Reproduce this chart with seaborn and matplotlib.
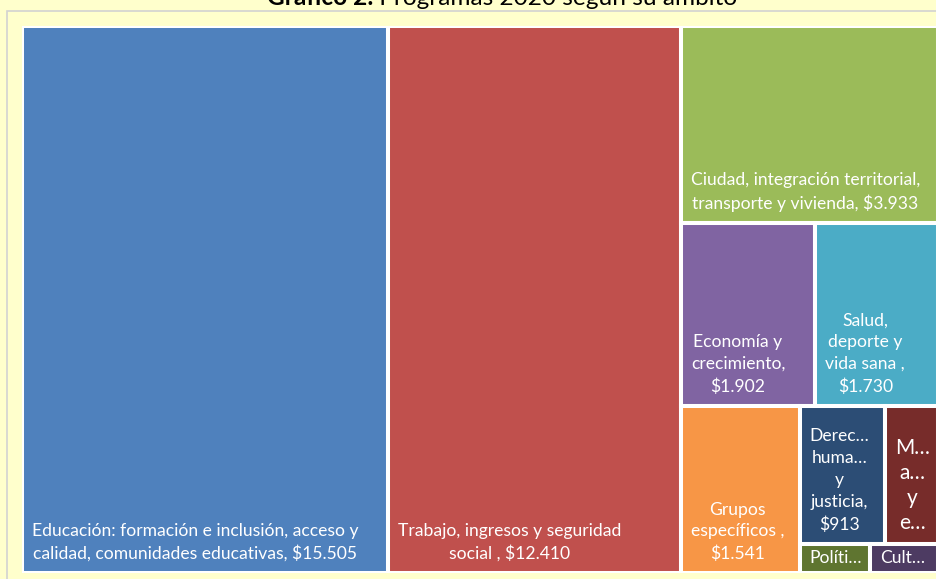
import matplotlib
matplotlib.use("Agg")
import matplotlib.pyplot as plt
import matplotlib.patches as mpatches
import seaborn as sns

# ámbitos, as wrapped / cut in the original chart ({} = monto)
ambitos = [
    "Educación: formación e inclusión, acceso y\ncalidad, comunidades educativas, {}",
    "Trabajo, ingresos y seguridad\nsocial , {}",
    "Ciudad, integración territorial,\ntransporte y vivienda, {}",
    "Economía y\ncrecimiento,\n{}",
    "Salud,\ndeporte y\nvida sana ,\n{}",
    "Grupos\nespecíficos ,\n{}",
    "Derec…\nhuma…\ny\njusticia,\n{}",
    "M…\na…\ny\ne…",
    "Políti…",
    "Cult…",
]
# millones de pesos
montos = [15505, 12410, 3933, 1902, 1730, 1541, 913, 565, 160, 156]

colores = ["#4F81BD", "#C0504D", "#9BBB59", "#8064A2", "#4BACC6",
           "#F79646", "#2C4D75", "#772C2A", "#5F7530", "#4D3B62"]

# strips of the treemap, in drawing order (same grouping as the excel chart)
franjas = [[0], [1], [2], [3, 4], [5], [6, 7], [8], [9]]


def pesos(v):
    return "${:,}".format(v).replace(",", ".")


def treemap(values, strips, x, y, w, h):
    rects = [None] * len(values)
    rest = float(sum(values))
    for strip in strips:
        s = float(sum(values[i] for i in strip))
        if w >= h:
            sw = w * s / rest
            yy = y
            for i in strip:
                hh = h * values[i] / s
                rects[i] = (x, yy, sw, hh)
                yy += hh
            x += sw
            w -= sw
        else:
            sh = h * s / rest
            xx = x
            for i in strip:
                ww = w * values[i] / s
                rects[i] = (xx, y, ww, sh)
                xx += ww
            y += sh
            h -= sh
        rest -= s
    return rects


sns.set_theme(style="white")
plt.rcParams['font.family'] = ['Lato', 'DejaVu Sans']

W_PX, H_PX = 937, 579
fig = plt.figure(figsize=(W_PX / 100, H_PX / 100), dpi=100)
fig.patch.set_facecolor("#FFFFCC")

# thin frame of the excel chart area
fig.add_artist(mpatches.Rectangle((7.5 / W_PX, -0.1), 1.2, 1.1 - 11.5 / H_PX,
                                  transform=fig.transFigure, fill=False,
                                  edgecolor="#D2D2D2", linewidth=1.2))

ax = fig.add_axes([22 / W_PX, 6 / H_PX, 916 / W_PX, 547 / H_PX])
ax.set_facecolor("white")
pos = ax.get_position()
W = pos.width * W_PX
H = pos.height * H_PX
ax.set_xlim(0, W)
ax.set_ylim(H, 0)
ax.set_axis_off()
ax.patch.set_visible(True)

rects = treemap(montos, franjas, 0, 0, W, H)

textos = []
for i, (x, y, w, h) in enumerate(rects):
    ax.add_patch(mpatches.Rectangle((x, y), w, h, facecolor=colores[i],
                                    edgecolor="white", linewidth=2.9))
    label = ambitos[i].format(pesos(montos[i]))
    fs = 15 if i == 7 else 12.6
    t = ax.text(x + 10, y + h - 11, label, ha="left", va="bottom",
                multialignment="center", color="white", fontsize=fs,
                linespacing=1.45 if i != 7 else 1.3)
    textos.append(t)

fig.canvas.draw()
renderer = fig.canvas.get_renderer()
for t, (x, y, w, h) in zip(textos, rects):
    bb = t.get_window_extent(renderer)
    if bb.height > h - 14:
        t.set_y(y + h / 2)
        t.set_va("center")

# title, partly out of the picture as in the original
t1 = fig.text(0, 1 - 5 / H_PX, "Gráfico 2:", fontsize=17.6, fontweight="bold",
              va="baseline", ha="left", color="black")
t2 = fig.text(0, 1 - 5 / H_PX, " Programas 2020 según su ámbito", fontsize=17.6,
              va="baseline", ha="left", color="black")
fig.canvas.draw()
w1 = t1.get_window_extent(renderer).width
w2 = t2.get_window_extent(renderer).width
x0 = 502 - (w1 + w2) / 2
t1.set_x(x0 / W_PX)
t2.set_x((x0 + w1) / W_PX)

fig.savefig("out.png", dpi=100, facecolor=fig.get_facecolor())
